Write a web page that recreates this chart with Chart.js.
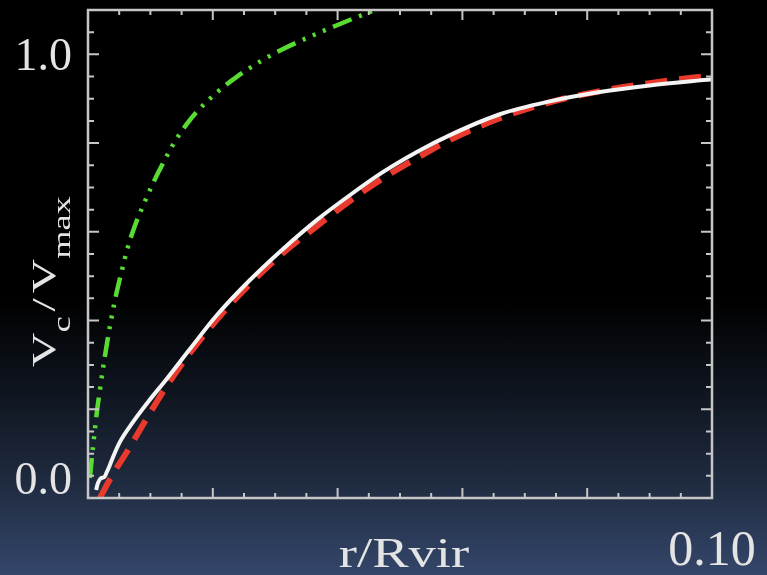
<!DOCTYPE html>
<html>
<head>
<meta charset="utf-8">
<script src="https://cdn.jsdelivr.net/npm/chart.js@4.4.1/dist/chart.umd.min.js"></script>
<style>
  html, body { margin: 0; padding: 0; }
  body {
    width: 767px; height: 575px; overflow: hidden;
    background: linear-gradient(to bottom, #000 0%, #000 52%, #0f151f 68%, #1f2b40 84%, #34466a 100%);
  }
  canvas { display: block; }
</style>
</head>
<body>
<canvas id="vcChart" width="767" height="575"></canvas>
<script>
// simulated halo (white, solid)
const simR = [0.0013, 0.0016, 0.0021, 0.0026, 0.0030, 0.0035, 0.0040, 0.0051, 0.0072, 0.0096,
              0.0127, 0.0164, 0.0207, 0.0260, 0.0313, 0.0367, 0.0420, 0.0473, 0.0527, 0.0580,
              0.0660, 0.0740, 0.0820, 0.0900, 0.1000];
const simV = [0.018, 0.034, 0.045, 0.047, 0.058, 0.074, 0.092, 0.126, 0.171, 0.216,
              0.270, 0.337, 0.413, 0.492, 0.562, 0.627, 0.683, 0.735, 0.780, 0.818,
              0.865, 0.894, 0.915, 0.930, 0.944];

// fit (red, dashed)
const fitR = [0.0019, 0.0040, 0.0062, 0.0083, 0.0099, 0.0127, 0.0164, 0.0212, 0.0260, 0.0313,
              0.0367, 0.0420, 0.0473, 0.0527, 0.0580, 0.0660, 0.0740, 0.0820, 0.0900, 0.1000];
const fitV = [0.000, 0.054, 0.103, 0.153, 0.191, 0.254, 0.328, 0.411, 0.483, 0.553,
              0.613, 0.670, 0.721, 0.766, 0.807, 0.856, 0.892, 0.917, 0.935, 0.953];

// other profile (green, dash-dot-dot-dot)
const altR = [0.0003, 0.0008, 0.0014, 0.0019, 0.0026, 0.0032, 0.0043, 0.0055, 0.0064, 0.0075,
              0.0088, 0.0103, 0.0123, 0.0139, 0.0160, 0.0176, 0.0208, 0.0240, 0.0276, 0.0311,
              0.0356, 0.0396, 0.0447, 0.0470];
const altV = [0.045, 0.115, 0.191, 0.243, 0.310, 0.362, 0.445, 0.517, 0.566, 0.613,
              0.658, 0.706, 0.762, 0.803, 0.846, 0.873, 0.916, 0.951, 0.984, 1.011,
              1.040, 1.064, 1.093, 1.106];

// only these tick labels are visible
const xTickValues = [0.10];
const xTickLabels = ['0.10'];
const yTickValues = [0, 1.0];
const yTickLabels = ['0.0', '1.0'];

const toPoints = (xs, ys) => xs.map((x, i) => ({ x: x, y: ys[i] }));
const textColor = '#e4e4e4';
const serif = '"Liberation Serif", "DejaVu Serif", serif';

// box + inward ticks on all four sides, then the axis titles
const framePlugin = {
  id: 'frame',
  afterDatasetsDraw(chart) {
    const { ctx, chartArea: a, scales: { x, y } } = chart;
    ctx.save();
    ctx.strokeStyle = '#c6c6c6';
    ctx.lineWidth = 2.5;
    ctx.strokeRect(a.left, a.top, a.right - a.left, a.bottom - a.top);

    ctx.lineWidth = 2;
    ctx.beginPath();
    for (let i = 0; i <= 20; i++) {
      const px = x.getPixelForValue(i * 0.005);
      const len = i % 4 === 0 ? 10 : 5;
      ctx.moveTo(px, a.bottom); ctx.lineTo(px, a.bottom - len);
      ctx.moveTo(px, a.top); ctx.lineTo(px, a.top + len);
    }
    for (let i = 0; i <= 22; i++) {
      const py = y.getPixelForValue(i * 0.05);
      const len = i % 4 === 0 ? 11 : 6;
      ctx.moveTo(a.left, py); ctx.lineTo(a.left + len, py);
      ctx.moveTo(a.right, py); ctx.lineTo(a.right - len, py);
    }
    ctx.stroke();
    ctx.restore();
  },
  afterDraw(chart) {
    const { ctx, chartArea: a } = chart;
    ctx.save();
    ctx.fillStyle = textColor;
    ctx.textBaseline = 'alphabetic';

    // x title
    ctx.save();
    ctx.translate((a.left + a.right) / 2 + 4, 567);
    ctx.scale(1.3, 1);
    ctx.font = '42px ' + serif;
    ctx.textAlign = 'center';
    ctx.fillText('r/Rvir', 0, 0);
    ctx.restore();

    // y title with subscripts, rotated
    const stretch = 1.4;
    const parts = [
      { t: 'V', sub: false, gap: 0 },
      { t: 'c', sub: true, gap: 0 },
      { t: '/', sub: false, gap: 5 },
      { t: 'V', sub: false, gap: 5 },
      { t: 'max', sub: true, gap: 0 }
    ];
    ctx.save();
    ctx.translate(55, 367);
    ctx.rotate(-Math.PI / 2);
    ctx.scale(stretch, 1);
    ctx.textAlign = 'left';
    let u = 0;
    parts.forEach(p => {
      u += p.gap / stretch;
      ctx.font = (p.sub ? '26px ' : '34px ') + serif;
      ctx.fillText(p.t, u, p.sub ? 15 : 0);
      u += ctx.measureText(p.t).width;
    });
    ctx.restore();
    ctx.restore();
  }
};

new Chart(document.getElementById('vcChart'), {
  type: 'line',
  data: {
    datasets: [
      {
        data: toPoints(simR, simV),
        borderColor: '#f4f4f4',
        borderWidth: 4,
        pointRadius: 0,
        cubicInterpolationMode: 'monotone'
      },
      {
        data: toPoints(fitR, fitV),
        borderColor: '#e8392c',
        borderWidth: 6,
        borderDash: [22, 12],
        pointRadius: 0,
        cubicInterpolationMode: 'monotone'
      },
      {
        data: toPoints(altR, altV),
        borderColor: '#58dc34',
        borderWidth: 4.5,
        borderDash: [20, 8, 3, 8, 3, 8, 3, 8],
        pointRadius: 0,
        cubicInterpolationMode: 'monotone'
      }
    ]
  },
  options: {
    responsive: false,
    animation: false,
    layout: { padding: { top: 10, right: 55, left: 0, bottom: 0 } },
    plugins: { legend: { display: false }, tooltip: { enabled: false } },
    scales: {
      x: {
        type: 'linear',
        min: 0,
        max: 0.1,
        grid: { display: false, drawTicks: false },
        border: { display: false },
        afterBuildTicks: s => { s.ticks = xTickValues.map(v => ({ value: v })); },
        afterFit: s => { s.height = 77; s.paddingLeft = 0; s.paddingRight = 0; },
        ticks: {
          autoSkip: false,
          maxRotation: 0,
          padding: 24,
          color: textColor,
          font: { family: serif, size: 50 },
          callback: v => {
            const i = xTickValues.findIndex(t => Math.abs(t - v) < 1e-9);
            return i >= 0 ? xTickLabels[i] : null;
          }
        }
      },
      y: {
        type: 'linear',
        min: 0,
        max: 1.1,
        grid: { display: false, drawTicks: false },
        border: { display: false },
        afterBuildTicks: s => { s.ticks = yTickValues.map(v => ({ value: v })); },
        afterFit: s => { s.width = 88; s.paddingTop = 0; s.paddingBottom = 0; },
        ticks: {
          autoSkip: false,
          padding: 16,
          labelOffset: 4,
          color: textColor,
          font: { family: serif, size: 46, lineHeight: 0.89 },
          callback: v => {
            const i = yTickValues.findIndex(t => Math.abs(t - v) < 1e-9);
            if (i < 0) return null;
            // bottom label sits a bit above its tick in the original
            return v === 0 ? [yTickLabels[i], ''] : yTickLabels[i];
          }
        }
      }
    }
  },
  plugins: [framePlugin]
});
</script>
</body>
</html>
